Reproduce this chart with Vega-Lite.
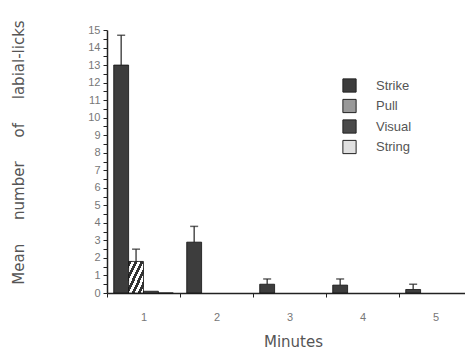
{
  "$schema": "https://vega.github.io/schema/vega-lite/v6.json",
  "autosize": {"type": "none"},
  "padding": {"left": 107, "top": 30, "right": 0, "bottom": 63},
  "width": 365,
  "height": 263,
  "background": "white",
  "config": {
    "view": {"stroke": null},
    "font": "Liberation Sans",
    "axis": {"domainColor": "#222", "domainWidth": 1.5, "tickColor": "#222", "grid": false, "labelColor": "#777", "titleColor": "#555", "titleFontWeight": "normal", "titleFont": "DejaVu Sans"}
  },
  "data": {
    "values": [
      {"minute": "1", "condition": "Strike", "mean": 13.0, "upper": 14.7},
      {"minute": "1", "condition": "Pull", "mean": 1.8, "upper": 2.5},
      {"minute": "1", "condition": "Visual", "mean": 0.1, "upper": null},
      {"minute": "1", "condition": "String", "mean": 0.0, "upper": null},
      {"minute": "2", "condition": "Strike", "mean": 2.9, "upper": 3.8},
      {"minute": "3", "condition": "Strike", "mean": 0.5, "upper": 0.8},
      {"minute": "4", "condition": "Strike", "mean": 0.45, "upper": 0.8},
      {"minute": "5", "condition": "Strike", "mean": 0.2, "upper": 0.5}
    ]
  },
  "encoding": {
    "x": {
      "field": "minute", "type": "nominal",
      "scale": {"domain": ["1", "2", "3", "4", "5"], "paddingInner": 0, "paddingOuter": 0},
      "axis": {"title": "Minutes", "labelAngle": 0, "tickBand": "extent", "tickSize": 4, "labelFontSize": 11, "labelPadding": 14, "titleFontSize": 15, "titlePadding": 12, "titleX": 186}
    },
    "xOffset": {
      "field": "condition", "type": "nominal",
      "scale": {"domain": ["Strike", "Pull", "Visual", "String"], "paddingInner": 0, "paddingOuter": 0.45}
    }
  },
  "layer": [
    {
      "mark": {"type": "bar", "stroke": "#111", "strokeWidth": 0.8},
      "encoding": {
        "y": {
          "field": "mean", "type": "quantitative",
          "scale": {"domain": [0, 15], "nice": false},
          "axis": {
            "title": "Mean\u00a0\u00a0\u00a0\u00a0\u00a0number\u00a0\u00a0\u00a0\u00a0\u00a0of\u00a0\u00a0\u00a0\u00a0\u00a0labial-licks",
            "values": [0,0.5,1,1.5,2,2.5,3,3.5,4,4.5,5,5.5,6,6.5,7,7.5,8,8.5,9,9.5,10,10.5,11,11.5,12,12.5,13,13.5,14,14.5,15],
            "labelExpr": "datum.value % 1 == 0 ? format(datum.value, 'd') : ''",
            "labelOverlap": false, "labelFlush": false,
            "tickSize": 4, "labelFontSize": 11, "labelPadding": 3,
            "titleFontSize": 15, "titlePadding": 61, "titleY": 122
          }
        },
        "fill": {
          "condition": {"test": "datum.condition == 'Pull'", "value": {"gradient": "linear", "x1": 0, "y1": 0, "x2": 1, "y2": 1, "stops": [
              {"offset": 0, "color": "#333"}, {"offset": 0.1, "color": "#333"}, {"offset": 0.1, "color": "#fff"}, {"offset": 0.2, "color": "#fff"},
              {"offset": 0.2, "color": "#333"}, {"offset": 0.3, "color": "#333"}, {"offset": 0.3, "color": "#fff"}, {"offset": 0.4, "color": "#fff"},
              {"offset": 0.4, "color": "#333"}, {"offset": 0.5, "color": "#333"}, {"offset": 0.5, "color": "#fff"}, {"offset": 0.6, "color": "#fff"},
              {"offset": 0.6, "color": "#333"}, {"offset": 0.7, "color": "#333"}, {"offset": 0.7, "color": "#fff"}, {"offset": 0.8, "color": "#fff"},
              {"offset": 0.8, "color": "#333"}, {"offset": 0.9, "color": "#333"}, {"offset": 0.9, "color": "#fff"}, {"offset": 1, "color": "#fff"}
            ]}},
          "field": "condition", "type": "nominal",
          "scale": {"domain": ["Strike", "Pull", "Visual", "String"], "range": ["#3d3d3d", "#999999", "#4a4a4a", "#e0e0e0"]},
          "legend": {
            "title": null, "orient": "none", "legendX": 235, "legendY": 48,
            "symbolType": "square", "symbolSize": 175, "symbolStrokeColor": "#222", "symbolStrokeWidth": 1,
            "labelFontSize": 13, "labelColor": "#555", "rowPadding": 1.5, "labelOffset": 19
          }
        }
      }
    },
    {
      "transform": [{"filter": "datum.upper != null"}],
      "mark": {"type": "rule", "color": "#222", "strokeWidth": 1.2},
      "encoding": {
        "y": {"field": "mean", "type": "quantitative",
          "axis": {
            "values": [0,0.5,1,1.5,2,2.5,3,3.5,4,4.5,5,5.5,6,6.5,7,7.5,8,8.5,9,9.5,10,10.5,11,11.5,12,12.5,13,13.5,14,14.5,15],
            "labelExpr": "datum.value % 1 == 0 ? format(datum.value, 'd') : ''",
            "labelOverlap": false, "labelFlush": false
          }},
        "y2": {"field": "upper"}
      }
    },
    {
      "transform": [{"filter": "datum.upper != null"}],
      "mark": {"type": "tick", "color": "#222", "orient": "horizontal", "size": 8, "thickness": 1.5},
      "encoding": {
        "y": {"field": "upper", "type": "quantitative",
          "axis": {
            "values": [0,0.5,1,1.5,2,2.5,3,3.5,4,4.5,5,5.5,6,6.5,7,7.5,8,8.5,9,9.5,10,10.5,11,11.5,12,12.5,13,13.5,14,14.5,15],
            "labelExpr": "datum.value % 1 == 0 ? format(datum.value, 'd') : ''",
            "labelOverlap": false, "labelFlush": false
          }}
      }
    }
  ]
}
